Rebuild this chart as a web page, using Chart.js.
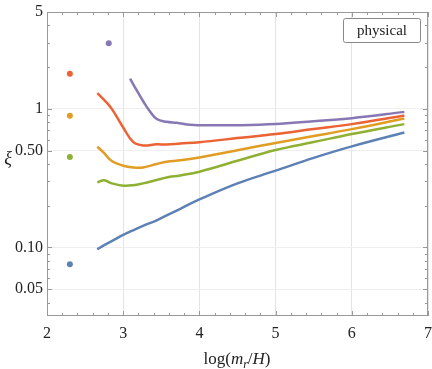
<!DOCTYPE html>
<html>
<head>
<meta charset="utf-8">
<script src="https://cdn.jsdelivr.net/npm/chart.js@4"></script>
<style>
  html, body { margin: 0; padding: 0; background: #fff; }
  #wrap { width: 432px; height: 369px; position: relative; }
</style>
</head>
<body>
<div id="wrap"><canvas id="chart"></canvas></div>
<script>
// curves
const xLine = [2.66, 2.75, 2.85, 3.0, 3.13, 3.26, 3.44, 3.57, 3.75, 4.0, 4.5, 5.0, 5.5, 6.0, 6.69];
const blueLine = [0.097, 0.104, 0.111, 0.123, 0.133, 0.143, 0.157, 0.170, 0.19, 0.222, 0.29, 0.358, 0.443, 0.536, 0.675];
const greenLine = [0.295, 0.305, 0.29, 0.279, 0.281, 0.29, 0.307, 0.32, 0.331, 0.352, 0.422, 0.505, 0.576, 0.658, 0.776];
const orangeLine = [0.533, 0.48, 0.42, 0.389, 0.378, 0.378, 0.400, 0.416, 0.425, 0.446, 0.503, 0.567, 0.636, 0.714, 0.852];
const redLine = [1.30, 1.16, 1.0, 0.734, 0.578, 0.545, 0.555, 0.553, 0.562, 0.575, 0.615, 0.658, 0.715, 0.776, 0.895];
const xPurple = [3.09, 3.17, 3.26, 3.35, 3.44, 3.57, 3.7, 3.88, 4.0, 4.5, 5.0, 5.5, 6.0, 6.69];
const purpleLine = [1.65, 1.38, 1.14, 0.96, 0.845, 0.806, 0.793, 0.767, 0.762, 0.762, 0.776, 0.815, 0.857, 0.951];

// single points
const xDots = [2.3, 2.3, 2.3, 2.3, 2.81];
const yDots = [0.0755, 0.45, 0.89, 1.79, 2.98];

const colors = ['#5E81B5', '#8FB032', '#E19C24', '#EB6235', '#8778B3'];

const xTicks = [2, 3, 4, 5, 6, 7];
const yTicks = [0.05, 0.1, 0.5, 1, 5];
const yTickLabels = ['0.05', '0.10', '0.50', '1', '5'];
const yMinor = [0.04, 0.06, 0.07, 0.08, 0.09, 0.2, 0.3, 0.4, 0.6, 0.7, 0.8, 0.9, 2, 3, 4];

function pts(xs, ys) {
    return xs.map((x, i) => ({ x: x, y: ys[i] }));
}

const lines = [
    [xLine, blueLine], [xLine, greenLine], [xLine, orangeLine], [xLine, redLine], [xPurple, purpleLine]
];

const datasets = [];
lines.forEach((l, i) => {
    datasets.push({
        data: pts(l[0], l[1]),
        showLine: true,
        borderColor: colors[i],
        borderWidth: 2.5,
        pointRadius: 0,
        tension: 0.4
    });
});
xDots.forEach((x, i) => {
    datasets.push({
        data: [{ x: x, y: yDots[i] }],
        showLine: false,
        pointRadius: 3,
        pointBackgroundColor: colors[i],
        pointBorderWidth: 0
    });
});

const serif = '"Liberation Serif", "DejaVu Serif", serif';

const decor = {
    id: 'decor',
    afterDraw(chart) {
        const ctx = chart.ctx;
        const a = chart.chartArea;
        const xs = chart.scales.x, ys = chart.scales.y;
        ctx.save();
        ctx.strokeStyle = '#999';
        ctx.lineWidth = 1;
        ctx.strokeRect(a.left + 0.5, a.top + 0.5, a.right - a.left - 1, a.bottom - a.top - 1);

        // inward ticks
        ctx.beginPath();
        for (let v = 2; v <= 7.001; v += 0.2) {
            const px = Math.round(xs.getPixelForValue(v)) + 0.5;
            const major = Math.abs(v - Math.round(v)) < 0.01;
            const len = major ? 5 : 3;
            ctx.moveTo(px, a.bottom); ctx.lineTo(px, a.bottom - len);
            ctx.moveTo(px, a.top); ctx.lineTo(px, a.top + len);
        }
        yTicks.concat(yMinor).forEach(v => {
            const py = Math.round(ys.getPixelForValue(v)) + 0.5;
            const len = yTicks.includes(v) ? 5 : 3;
            ctx.moveTo(a.left, py); ctx.lineTo(a.left + len, py);
            ctx.moveTo(a.right, py); ctx.lineTo(a.right - len, py);
        });
        ctx.stroke();

        // label box
        ctx.fillStyle = '#fff';
        ctx.strokeStyle = '#888';
        ctx.beginPath();
        ctx.roundRect(343.5, 18.5, 77, 24, 2);
        ctx.fill();
        ctx.stroke();
        ctx.fillStyle = '#222';
        ctx.font = '15px ' + serif;
        ctx.textAlign = 'center';
        ctx.textBaseline = 'middle';
        ctx.fillText('physical', 382, 31);

        // y title
        ctx.font = 'italic 18px ' + serif;
        ctx.fillText('ξ', 8, 159);

        // x title: log(m_r/H)
        const parts = [
            ['log(', '17px ' + serif, 0],
            ['m', 'italic 17px ' + serif, 0],
            ['r', 'italic 12px ' + serif, 4],
            ['/', '17px ' + serif, 0],
            ['H', 'italic 17px ' + serif, 0],
            [')', '17px ' + serif, 0]
        ];
        let w = 0;
        parts.forEach(p => { ctx.font = p[1]; w += ctx.measureText(p[0]).width; });
        let x = 237 - w / 2;
        ctx.textAlign = 'left';
        ctx.textBaseline = 'alphabetic';
        parts.forEach(p => {
            ctx.font = p[1];
            ctx.fillText(p[0], x, 364 + p[2]);
            x += ctx.measureText(p[0]).width;
        });
        ctx.restore();
    }
};

new Chart(document.getElementById('chart'), {
    type: 'scatter',
    data: { datasets: datasets },
    options: {
        responsive: true,
        maintainAspectRatio: false,
        animation: false,
        layout: { padding: { top: 12, right: 4, left: 0, bottom: 0 } },
        plugins: { legend: { display: false }, tooltip: { enabled: false } },
        scales: {
            x: {
                type: 'linear',
                min: 2, max: 7,
                afterBuildTicks: s => { s.ticks = xTicks.map(v => ({ value: v })); },
                afterFit: s => { s.height = 53; s.paddingLeft = 0; s.paddingRight = 0; },
                grid: { color: '#e4e4e4', drawTicks: false },
                border: { display: false },
                ticks: { padding: 8, color: '#222', font: { family: serif, size: 16 } }
            },
            y: {
                type: 'logarithmic',
                min: 0.032, max: 5,
                afterBuildTicks: s => { s.ticks = yTicks.map(v => ({ value: v })); },
                afterFit: s => { s.width = 47; s.paddingTop = 0; s.paddingBottom = 0; },
                grid: { color: '#eeeeee', drawTicks: false },
                border: { display: false },
                ticks: {
                    padding: 4, color: '#222', font: { family: serif, size: 16 },
                    callback: (v) => yTickLabels[yTicks.indexOf(v)]
                }
            }
        }
    },
    plugins: [decor]
});
</script>
</body>
</html>
